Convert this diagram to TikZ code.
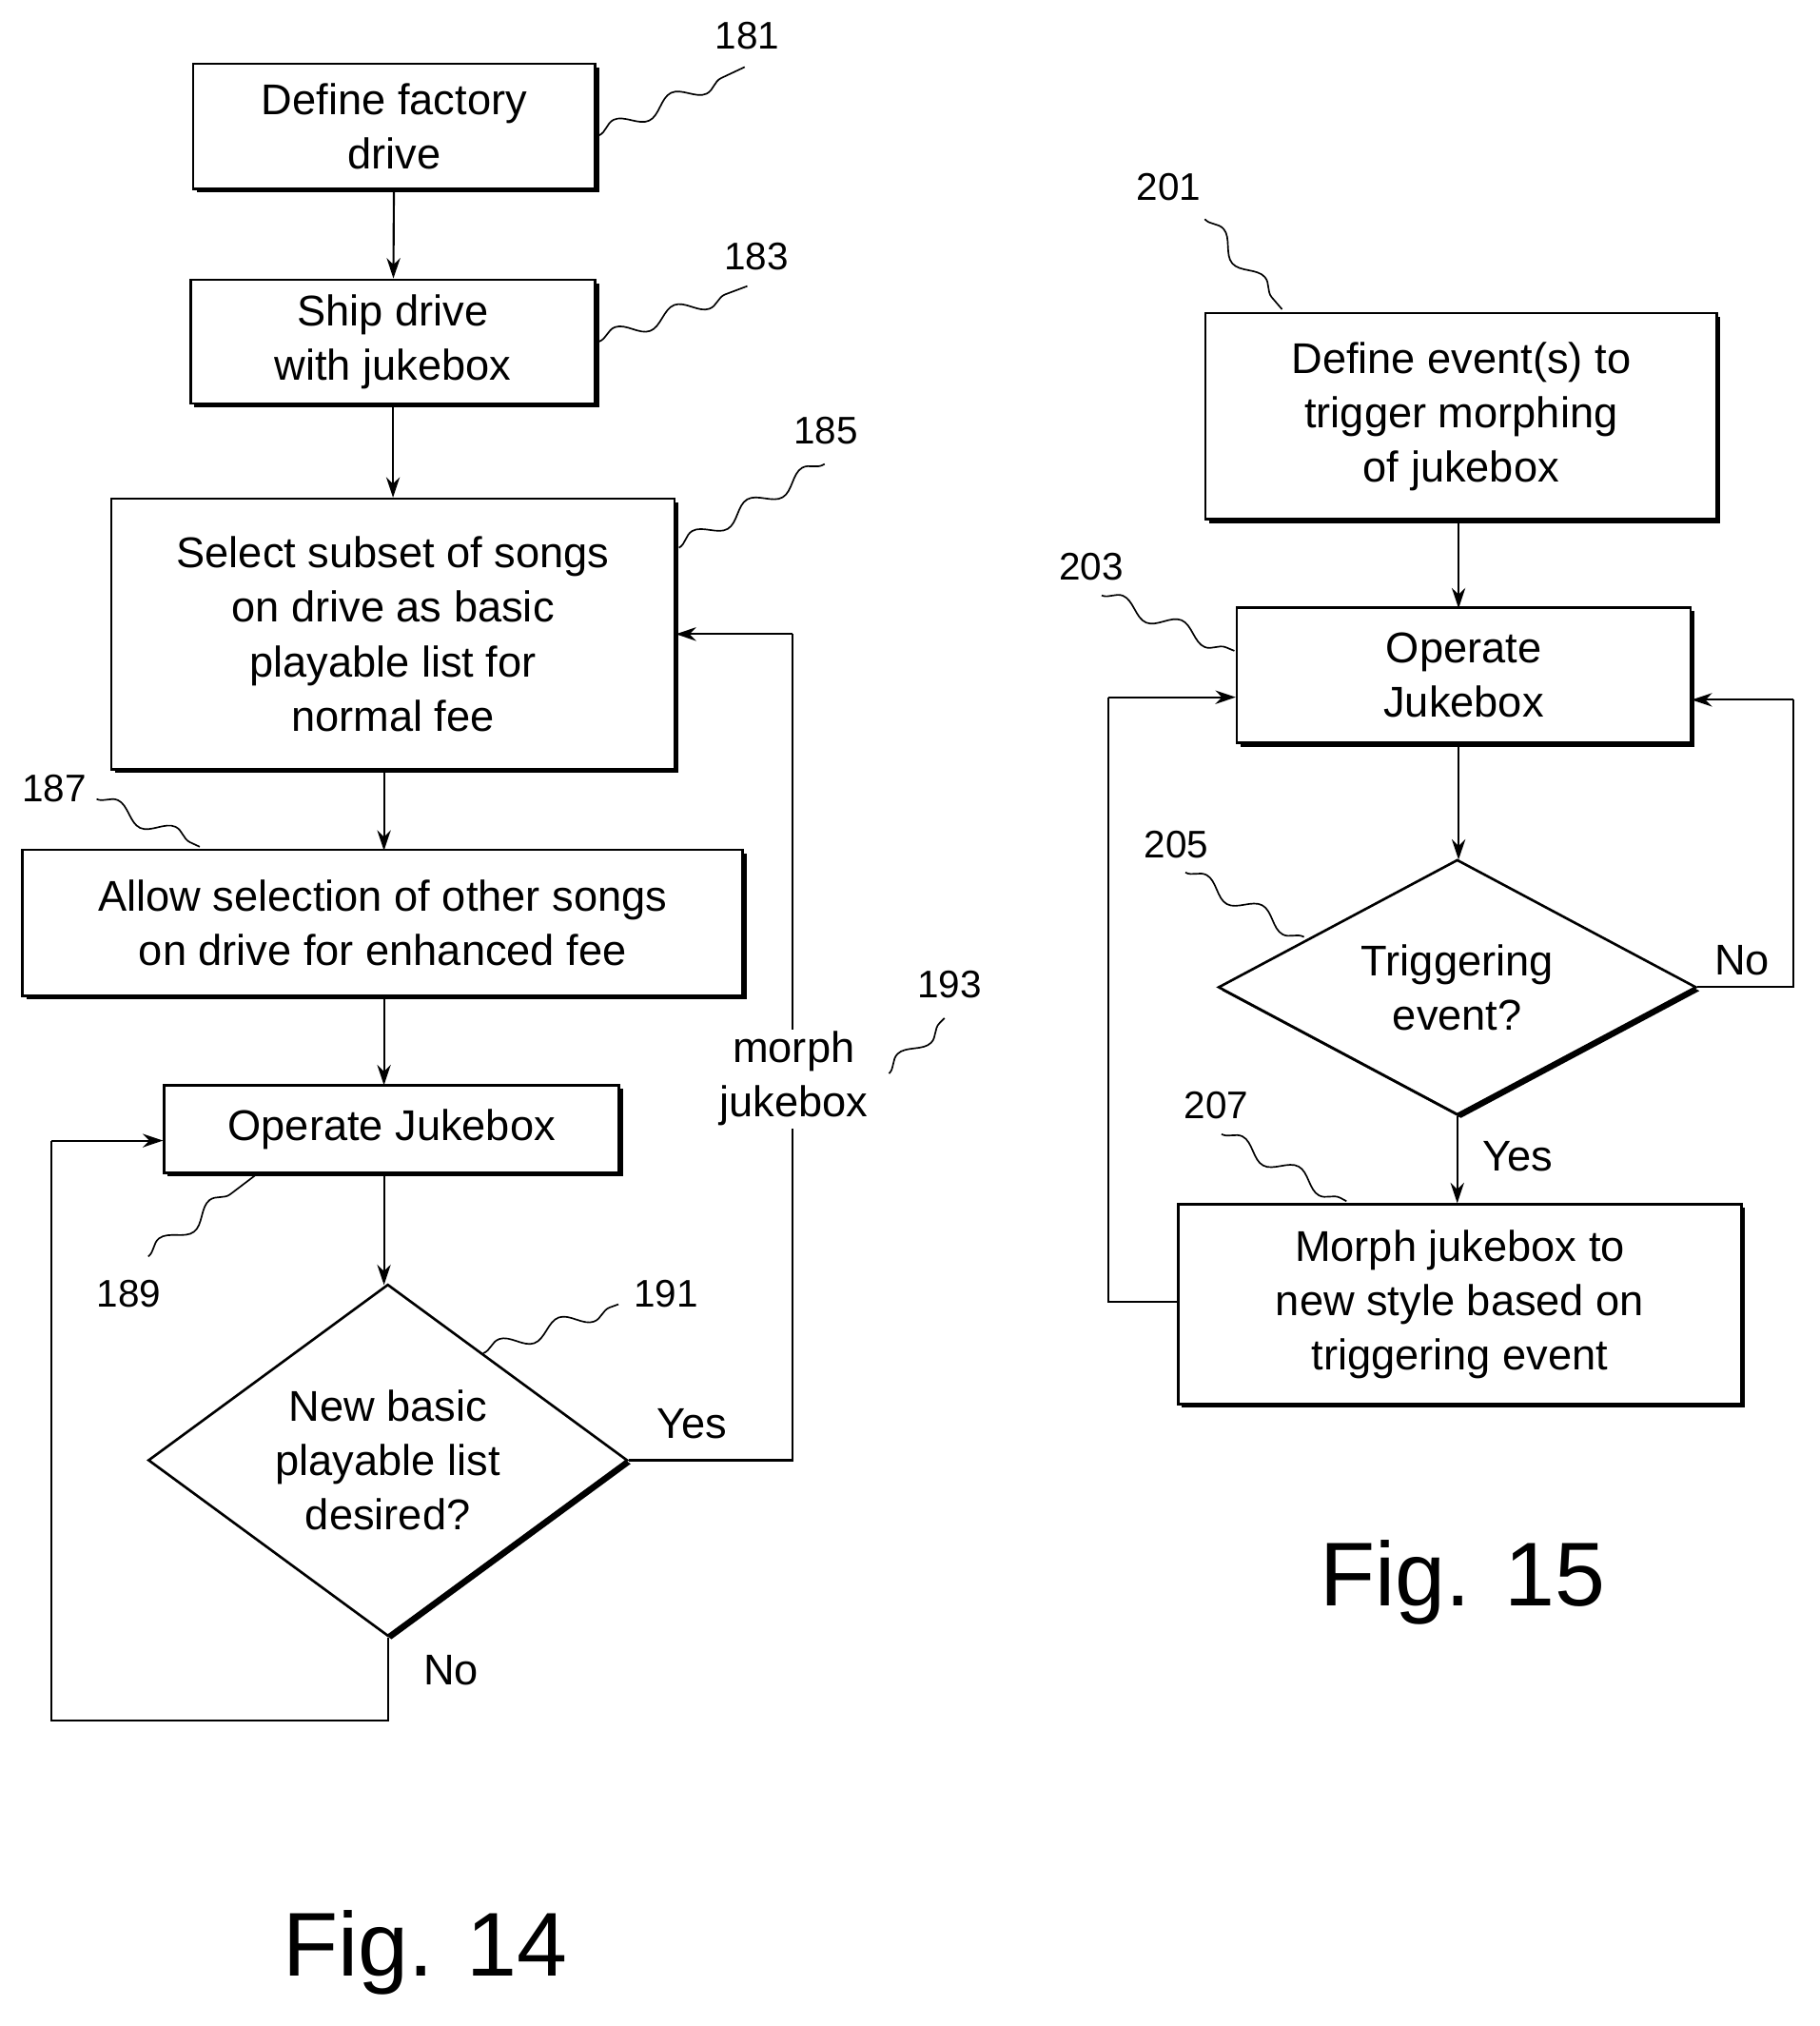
\documentclass[tikz,border=0pt]{standalone}
\usepackage{fontspec}
\setmainfont{Liberation Sans}
\usetikzlibrary{shapes.geometric,arrows.meta,decorations.pathmorphing,shadows}
\begin{document}
\begin{tikzpicture}[x=0.02cm,y=-0.02cm,
  every node/.style={font=\fontsize{19}{24}\selectfont},
  box/.style={draw,line width=1.1pt,fill=white,align=center,inner sep=0pt,
    drop shadow={opacity=1,shadow xshift=1.6pt,shadow yshift=-1.6pt,fill=black}},
  dia/.style={draw,diamond,line width=1.1pt,fill=white,align=center,inner sep=0pt,
    drop shadow={opacity=1,shadow xshift=1.6pt,shadow yshift=-1.6pt,fill=black}},
  arr/.style={line width=0.9pt,-{Stealth[length=9pt,width=6pt]}},
  ln/.style={line width=0.9pt},
  lead/.style={line width=0.7pt,decorate,decoration={snake,amplitude=3.5pt,segment length=28pt}},
  num/.style={font=\fontsize{17}{20}\selectfont},
  fig/.style={font=\fontsize{40}{46}\selectfont}]
\useasboundingbox (0,0) rectangle (1412,1572);
% Fig 14
\node[box,minimum width=312*0.02cm,minimum height=97*0.02cm] (b181) at (306,98) {Define factory\\drive};
\node[box,minimum width=314*0.02cm,minimum height=96*0.02cm] (b183) at (305,265) {Ship drive\\with jukebox};
\node[box,minimum width=437*0.02cm,minimum height=210*0.02cm] (b185) at (305,492) {Select subset of songs\\on drive as basic\\playable list for\\normal fee};
\node[box,minimum width=559*0.02cm,minimum height=113*0.02cm] (b187) at (297,716) {Allow selection of other songs\\on drive for enhanced fee};
\node[box,minimum width=353*0.02cm,minimum height=68*0.02cm] (b189) at (304,876) {Operate Jukebox};
\node[dia,minimum width=372*0.02cm,minimum height=273*0.02cm,aspect=1.36] (d191) at (301,1133) {New basic\\playable list\\desired?};
\draw[arr] (b181) -- (b183);
\draw[arr] (b183) -- (b185);
\draw[arr] (b185.south -| 298,0) -- (298,660);
\draw[arr] (b187.south -| 298,0) -- (298,842);
\draw[arr] (b189.south -| 298,0) -- (298,997);
\coordinate (nl1) at (301,1335); \coordinate (nl2) at (40,1335); \coordinate (nl3) at (40,885);
\draw[ln] (d191.south) -- (nl1) -- (nl2) -- (nl3);
\draw[arr] (nl3) -- (b189.west |- nl3);
\coordinate (y1) at (615,1133); \coordinate (y2) at (615,492);
\draw[ln] (d191.east) -- (y1) -- (y2);
\draw[arr] (y2) -- (b185.east |- y2);
\node (yes1) at (537,1105) {Yes};
\node (no1) at (350,1296) {No};
\node[align=center,fill=white,inner sep=1pt] (morph) at (616,837) {morph\\jukebox};
\node[fig] (fig14) at (330,1515) {Fig. 14};
% leads
\node[num] (n181) at (580,28) {181}; \coordinate (l181) at (465,105); \draw[lead] (l181) -- (578,52);
\node[num] (n183) at (587,199) {183}; \coordinate (l183) at (465,265); \draw[lead] (l183) -- (580,222);
\node[num] (n185) at (641,334) {185}; \coordinate (l185) at (527,425); \draw[lead] (l185) -- (640,360);
\node[num] (n187) at (42,612) {187}; \coordinate (l187) at (75,620); \draw[lead] (l187) -- (155,657);
\node[num] (n189) at (100,1004) {189}; \coordinate (l189) at (115,975); \draw[lead] (l189) -- (198,912);
\node[num] (n191) at (517,1004) {191}; \coordinate (l191) at (375,1050); \draw[lead] (l191) -- (480,1012);
\node[num] (n193) at (737,764) {193}; \coordinate (l193) at (690,833); \draw[lead] (l193) -- (733,790);
% Fig 15
\node[box,minimum width=397*0.02cm,minimum height=160*0.02cm] (b201) at (1134,323) {Define event(s) to\\trigger morphing\\of jukebox};
\node[box,minimum width=352*0.02cm,minimum height=105*0.02cm] (b203) at (1136,524) {Operate\\Jukebox};
\node[dia,minimum width=371*0.02cm,minimum height=198*0.02cm,aspect=1.87] (d205) at (1131,766) {Triggering\\event?};
\node[box,minimum width=437*0.02cm,minimum height=155*0.02cm] (b207) at (1133,1012) {Morph jukebox to\\new style based on\\triggering event};
\draw[arr] (b201.south -| 1132,0) -- (1132,472);
\draw[arr] (b203.south -| 1132,0) -- (1132,667);
\draw[arr] (d205.south) -- (d205.south |- b207.north);
\coordinate (r1) at (1392,766); \coordinate (r2) at (1392,543);
\draw[ln] (d205.east) -- (r1) -- (r2);
\draw[arr] (r2) -- (b203.east |- r2);
\coordinate (q1) at (860,1010); \coordinate (q2) at (860,541);
\draw[ln] (b207.west |- q1) -- (q1) -- (q2);
\draw[arr] (q2) -- (b203.west |- q2);
\node (no2) at (1352,745) {No};
\node (yes2) at (1178,897) {Yes};
\node[fig] (fig15) at (1135,1228) {Fig. 15};
\node[num] (n201) at (907,145) {201}; \coordinate (l201) at (935,170); \draw[lead] (l201) -- (995,240);
\node[num] (n203) at (847,440) {203}; \coordinate (l203) at (855,462); \draw[lead] (l203) -- (958,505);
\node[num] (n205) at (913,655) {205}; \coordinate (l205) at (920,677); \draw[lead] (l205) -- (1012,727);
\node[num] (n207) at (944,858) {207}; \coordinate (l207) at (948,880); \draw[lead] (l207) -- (1045,932);
\end{tikzpicture}
\end{document}
